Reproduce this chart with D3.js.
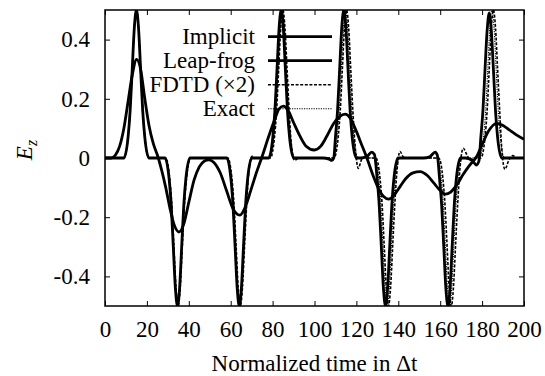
<!DOCTYPE html>
<html>
<head>
<meta charset="utf-8">
<script src="https://cdn.jsdelivr.net/npm/d3@7"></script>
<style>
  body { margin: 0; background: #fff; }
</style>
</head>
<body>
<div class="chart"></div>
<script>
// data: [time, Ez]
var seriesNames = ["Implicit", "Leap-frog", "FDTD (\u00d72)", "Exact"];

var implicitData = [
  [0,0],[3,0],[5,0.01],[7,0.04],[9,0.10],[11,0.19],[13,0.28],[15.1,0.333],[17,0.30],[19,0.20],
  [21,0.11],[23,0.05],[25,0.01],[27,-0.04],[29,-0.10],[31,-0.17],[33,-0.225],[35.3,-0.25],[37.5,-0.225],
  [40,-0.15],[42.5,-0.075],[45,-0.03],[47.5,-0.01],[49.5,-0.006],[52,-0.015],[55,-0.05],[58,-0.11],
  [61,-0.17],[64.4,-0.193],[67,-0.165],[70,-0.10],[72.5,-0.045],[75,0.005],[78,0.07],[81,0.13],
  [83,0.165],[85.1,0.175],[87.5,0.16],[90,0.12],[93,0.075],[96,0.04],[99.9,0.027],[103,0.04],
  [106,0.075],[109,0.115],[112,0.14],[114.6,0.148],[117,0.135],[120,0.09],[122.5,0.045],[125,0.0],
  [128,-0.06],[131,-0.11],[133,-0.13],[135.5,-0.139],[138,-0.125],[141,-0.095],[143.5,-0.07],
  [147,-0.05],[150.4,-0.046],[154,-0.06],[157,-0.085],[160,-0.11],[162.5,-0.122],[165,-0.115],
  [168,-0.09],[171,-0.055],[174,-0.025],[177.4,0.005],[180,0.045],[183,0.09],[187,0.117],
  [190,0.11],[193,0.095],[196,0.08],[200,0.063]
];

var leapfrogData = [
  [0,0],
  [9,0],[11,0.07],[12,0.16],[13,0.30],[14,0.44],[15,0.5],[16,0.44],[17,0.30],[18,0.16],[19,0.07],[21,0],
  [28.6,0],[30.6,-0.07],[31.6,-0.16],[32.6,-0.30],[33.6,-0.44],[34.6,-0.5],[35.6,-0.44],[36.6,-0.30],[37.6,-0.16],[38.6,-0.07],[40.6,0],
  [58.1,0],[60.1,-0.07],[61.1,-0.16],[62.1,-0.30],[63.1,-0.44],[64.1,-0.5],[65.1,-0.44],[66.1,-0.30],[67.1,-0.16],[68.1,-0.07],[70.1,0],
  [78.1,0],[80.1,0.07],[81.1,0.16],[82.1,0.30],[83.1,0.44],[84.1,0.5],[85.1,0.44],[86.1,0.30],[87.1,0.16],[88.1,0.07],[90.1,0],
  [104,0],[107,-0.004],[108.3,-0.008],[109.2,0],[110,0.07],[111,0.16],[112,0.30],[113,0.44],[114,0.5],[115,0.44],[116,0.30],[117,0.16],[118,0.07],[120,0],
  [122,0],[125,0.005],[127.3,0.02],[128.6,0.012],[129.9,-0.07],[130.9,-0.16],[131.9,-0.30],[132.9,-0.44],[133.9,-0.5],[134.9,-0.44],[135.9,-0.30],[136.9,-0.16],[137.9,-0.07],[139.9,0],
  [152,0],[155,0.004],[157.6,0.02],[158.6,0.01],[159.7,-0.07],[160.7,-0.16],[161.7,-0.30],[162.7,-0.44],[163.7,-0.5],[164.7,-0.44],[165.7,-0.30],[166.7,-0.16],[167.7,-0.07],[169.7,0],
  [172,0],[175,-0.006],[177.3,-0.024],[178.5,-0.01],[179.4,0.07],[180.4,0.16],[181.4,0.30],[182.4,0.43],[183.4,0.49],[184.4,0.43],[185.4,0.30],[186.4,0.16],[187.4,0.07],[189.4,0],
  [200,0]
];

var fdtdData = [
  [0,0],
  [9,0],[11,0.07],[12,0.16],[13,0.30],[14,0.44],[15,0.5],[16,0.44],[17,0.30],[18,0.16],[19,0.07],[21,0],
  [28.9,0],[30.9,-0.07],[31.9,-0.16],[32.9,-0.30],[33.9,-0.44],[34.9,-0.5],[35.9,-0.44],[36.9,-0.30],[37.9,-0.16],[38.9,-0.07],[40.9,0],
  [58.6,0],[60.6,-0.07],[61.6,-0.16],[62.6,-0.30],[63.6,-0.44],[64.6,-0.5],[65.6,-0.44],[66.6,-0.30],[67.6,-0.16],[68.6,-0.05],[70.2,0.006],[72,0],
  [78.9,0],[80.9,0.07],[81.9,0.16],[82.9,0.30],[83.9,0.44],[84.9,0.5],[85.9,0.44],[86.9,0.30],[87.9,0.16],[88.9,0.05],[90.5,-0.008],[92.5,0],
  [109.3,0],[111.3,0.07],[112.3,0.16],[113.3,0.30],[114.3,0.44],[115.3,0.5],[116.3,0.44],[117.3,0.30],[118.3,0.16],[119.3,0.05],[120.9,-0.035],[122.5,-0.005],[124.5,0.004],[126,0],
  [129.3,0],[131.3,-0.07],[132.3,-0.16],[133.3,-0.30],[134.3,-0.44],[135.3,-0.5],[136.3,-0.44],[137.3,-0.30],[138.3,-0.16],[139.3,-0.05],[140.8,0.022],[142.5,0.003],[144.5,0],
  [159.3,0],[161.3,-0.07],[162.3,-0.16],[163.3,-0.30],[164.3,-0.44],[165.3,-0.5],[166.3,-0.44],[167.3,-0.30],[168.3,-0.16],[169.5,-0.03],[171,0.033],[172.8,0.01],[174.5,-0.008],[176.5,0],
  [179.4,0],[181.4,0.07],[182.4,0.16],[183.4,0.30],[184.4,0.44],[185.4,0.5],[186.4,0.44],[187.4,0.30],[188.4,0.16],[189.4,0.03],[190.9,-0.038],[192.6,-0.01],[194.5,0.008],[197,0],
  [200,0]
];

var exactData = [
  [0,0],
  [9,0],[11,0.07],[12,0.16],[13,0.30],[14,0.44],[15,0.5],[16,0.44],[17,0.30],[18,0.16],[19,0.07],[21,0],
  [28.8,0],[30.8,-0.07],[31.8,-0.16],[32.8,-0.30],[33.8,-0.44],[34.8,-0.5],[35.8,-0.44],[36.8,-0.30],[37.8,-0.16],[38.8,-0.07],[40.8,0],
  [58.4,0],[60.4,-0.07],[61.4,-0.16],[62.4,-0.30],[63.4,-0.44],[64.4,-0.5],[65.4,-0.44],[66.4,-0.30],[67.4,-0.16],[68.4,-0.07],[70.4,0],
  [78.6,0],[80.6,0.07],[81.6,0.16],[82.6,0.30],[83.6,0.44],[84.6,0.5],[85.6,0.44],[86.6,0.30],[87.6,0.16],[88.6,0.07],[90.6,0],
  [108.8,0],[110.8,0.07],[111.8,0.16],[112.8,0.30],[113.8,0.44],[114.8,0.5],[115.8,0.44],[116.8,0.30],[117.8,0.16],[118.8,0.07],[120.8,0],
  [128.7,0],[130.7,-0.07],[131.7,-0.16],[132.7,-0.30],[133.7,-0.44],[134.7,-0.5],[135.7,-0.44],[136.7,-0.30],[137.7,-0.16],[138.7,-0.07],[140.7,0],
  [158.5,0],[160.5,-0.07],[161.5,-0.16],[162.5,-0.30],[163.5,-0.44],[164.5,-0.5],[165.5,-0.44],[166.5,-0.30],[167.5,-0.16],[168.5,-0.07],[170.5,0],
  [178.7,0],[180.7,0.07],[181.7,0.16],[182.7,0.30],[183.7,0.44],[184.7,0.5],[185.7,0.44],[186.7,0.30],[187.7,0.16],[188.7,0.07],[190.7,0],
  [200,0]
];

var xTicks = [0, 20, 40, 60, 80, 100, 120, 140, 160, 180, 200];
var yTicks = [-0.4, -0.2, 0, 0.2, 0.4];

// set up the chart
var svgWidth = 545;
var svgHeight = 376;
var margin = { top: 10, right: 21, bottom: 70, left: 105 };
var width = svgWidth - margin.left - margin.right;
var height = svgHeight - margin.top - margin.bottom;

var serif = "Liberation Serif";
var fontSize = "23px";

var svg = d3.select(".chart")
  .append("svg")
  .attr("width", svgWidth)
  .attr("height", svgHeight);

var chartGroup = svg.append("g")
  .attr("transform", `translate(${margin.left}, ${margin.top})`);

var xScale = d3.scaleLinear().domain([0, 200]).range([0, width]);
var yScale = d3.scaleLinear().domain([-0.5, 0.5]).range([height, 0]);

// axes, ticks point inward on all four sides
var bottomAxis = chartGroup.append("g")
  .attr("transform", `translate(0, ${height})`)
  .call(d3.axisBottom(xScale).tickValues(xTicks).tickSizeInner(-5).tickSizeOuter(0).tickPadding(15));
var leftAxis = chartGroup.append("g")
  .call(d3.axisLeft(yScale).tickValues(yTicks).tickSizeInner(-5).tickSizeOuter(0).tickPadding(15)
    .tickFormat(d => d === 0 ? "0" : String(d)));
chartGroup.append("g")
  .call(d3.axisTop(xScale).tickValues(xTicks).tickSizeInner(-5).tickSizeOuter(0).tickFormat(""));
chartGroup.append("g")
  .attr("transform", `translate(${width}, 0)`)
  .call(d3.axisRight(yScale).tickValues(yTicks).tickSizeInner(-5).tickSizeOuter(0).tickFormat(""));

chartGroup.selectAll(".domain").remove();
chartGroup.selectAll(".tick line").attr("stroke", "#000").attr("stroke-width", 1);
chartGroup.selectAll(".tick text")
  .style("font-family", serif)
  .style("font-size", fontSize)
  .attr("fill", "#000");
bottomAxis.selectAll(".tick text").attr("dy", "0.71em");

// clip the curves to the frame
svg.append("defs").append("clipPath").attr("id", "plotClip")
  .append("rect").attr("width", width).attr("height", height);

var line = d3.line()
  .x(d => xScale(d[0]))
  .y(d => yScale(d[1]))
  .curve(d3.curveMonotoneX);

var styles = [
  { data: implicitData, width: 2.8, dash: null },
  { data: leapfrogData, width: 2.8, dash: null },
  { data: fdtdData, width: 1.6, dash: "3,1.6" },
  { data: exactData, width: 1.1, dash: "1.2,1.2" }
];

var plot = chartGroup.append("g").attr("clip-path", "url(#plotClip)");

styles.forEach(function(s) {
  plot.append("path")
    .datum(s.data)
    .attr("fill", "none")
    .attr("stroke", "#000")
    .attr("stroke-width", s.width)
    .attr("stroke-linejoin", "round")
    .attr("stroke-dasharray", s.dash)
    .attr("d", line);
});

// legend, top left inside the frame
var legend = chartGroup.append("g");
seriesNames.forEach(function(name, i) {
  var ly = 26.7 + i * 24;
  legend.append("text")
    .attr("x", 150)
    .attr("y", ly + 7.5)
    .attr("text-anchor", "end")
    .style("font-family", serif)
    .style("font-size", fontSize)
    .text(name);
  legend.append("line")
    .attr("x1", 163).attr("x2", 227)
    .attr("y1", ly).attr("y2", ly)
    .attr("stroke", "#000")
    .attr("stroke-width", styles[i].width)
    .attr("stroke-dasharray", styles[i].dash);
});

// frame
chartGroup.append("rect")
  .attr("width", width)
  .attr("height", height)
  .attr("fill", "none")
  .attr("stroke", "#000")
  .attr("stroke-width", 1.5);

// axis titles
svg.append("text")
  .attr("x", margin.left + width / 2)
  .attr("y", 371)
  .attr("text-anchor", "middle")
  .style("font-family", serif)
  .style("font-size", fontSize)
  .text("Normalized time in \u0394t");

var yTitle = svg.append("text")
  .attr("transform", "translate(32, 150) rotate(-90)")
  .attr("text-anchor", "middle")
  .style("font-family", serif)
  .style("font-size", fontSize);
yTitle.append("tspan").style("font-style", "italic").text("E");
yTitle.append("tspan").style("font-style", "italic").style("font-size", "16px").attr("dy", "0.3em").text("z");
</script>
</body>
</html>
